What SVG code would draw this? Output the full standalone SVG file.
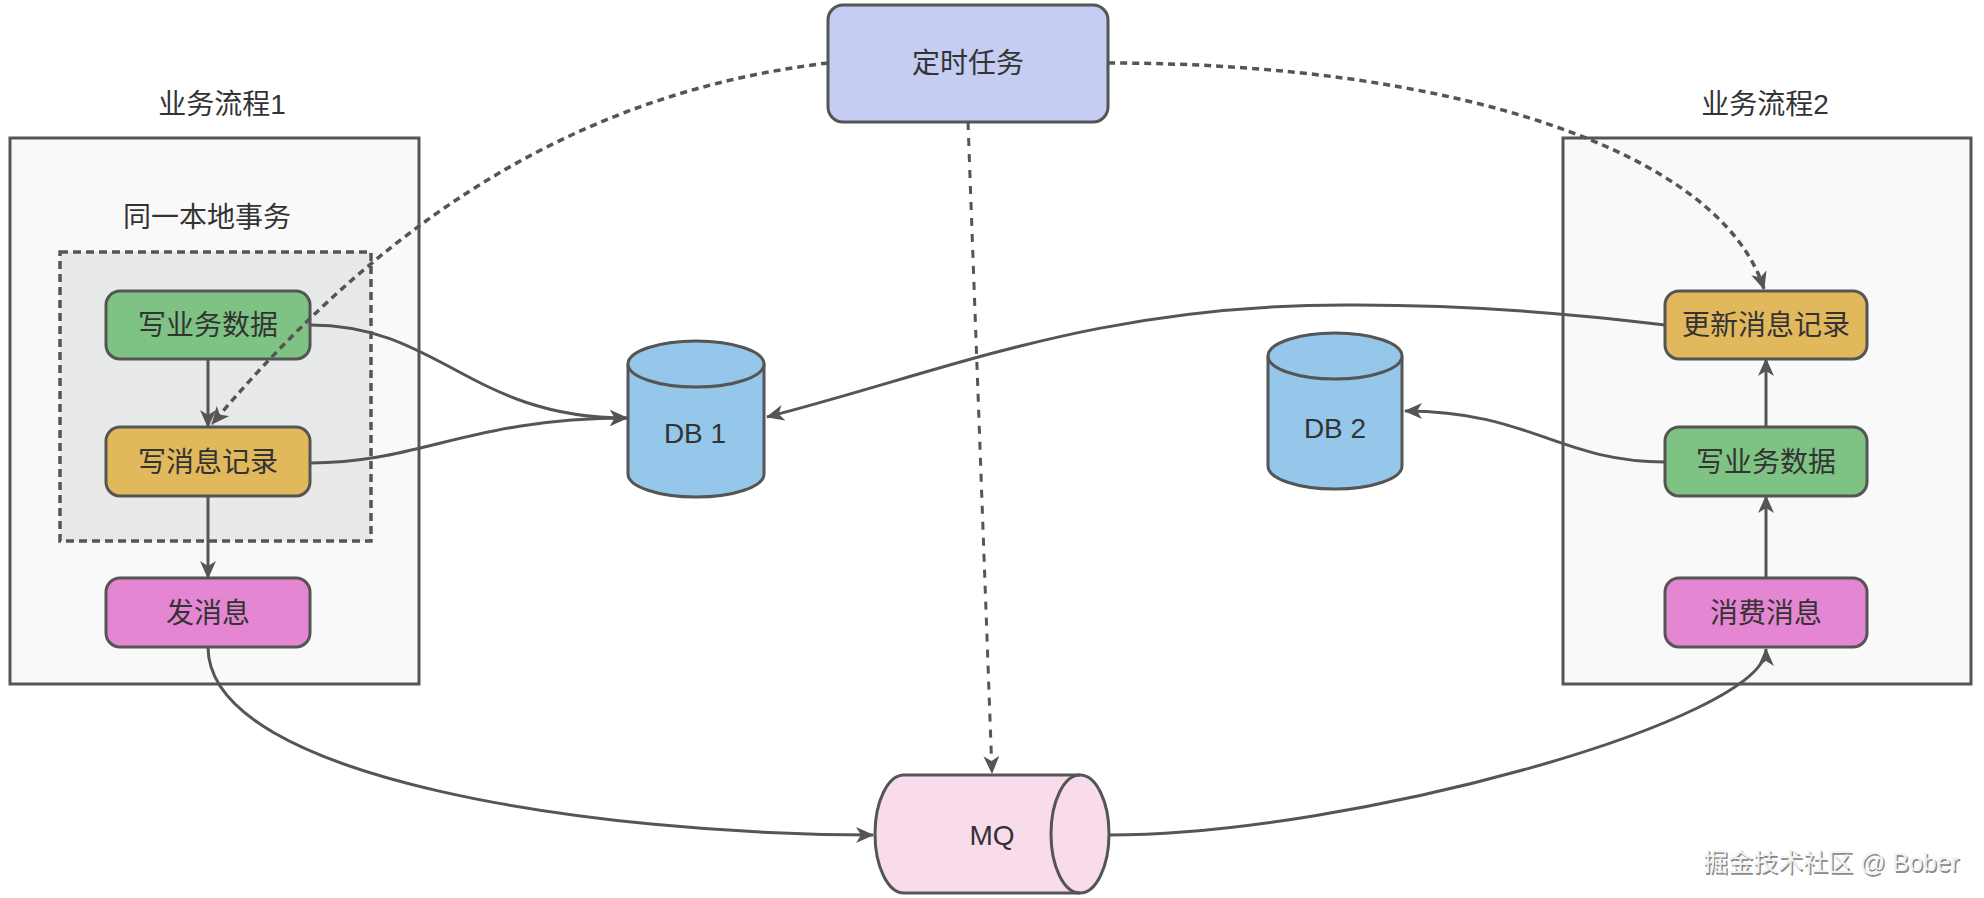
<svg xmlns="http://www.w3.org/2000/svg" width="1984" height="898" viewBox="0 0 1984 898">
<defs>
<style>
text{font-family:"Liberation Sans","Noto Sans CJK SC",sans-serif;fill:#333333;text-anchor:middle;dominant-baseline:central}
.lbl{font-size:28px}
.nt{font-size:28px}
.box{stroke:#555555;stroke-width:3}
.node{stroke:#555555;stroke-width:3}
.green{fill:#7ec384}
.yellow{fill:#e2b85c}
.pink{fill:#e586d3}
.db{fill:#95c7eb;stroke:#555555;stroke-width:3}
.conn{fill:none;stroke:#555555;stroke-width:3}
.dash{stroke-dasharray:7 5;stroke-width:3.5}
.vdash{stroke-dasharray:8 8}
.wm{font-size:25px;text-anchor:start}
</style>
<marker id="arr" markerUnits="userSpaceOnUse" markerWidth="18" markerHeight="16" viewBox="0 0 18 16" refX="17" refY="8" orient="auto">
<path d="M0,0 L18,8 L0,16 L5,8 Z" fill="#555555" stroke="none"/>
</marker>
</defs>
<rect width="1984" height="898" fill="#ffffff"/>

<g id="flow1">
<rect class="box" x="10" y="138" width="409" height="546" fill="#f9f9f9"/>
<text class="lbl" x="222" y="104">业务流程1</text>
</g>
<g id="local-tx">
<rect x="60" y="252" width="311" height="289" fill="#e8eaea" stroke="#555555" stroke-width="3.5" stroke-dasharray="8 5"/>
<text class="lbl" x="207" y="217">同一本地事务</text>
</g>
<g id="flow2">
<rect class="box" x="1563" y="138" width="408" height="546" fill="#f9f9f9"/>
<text class="lbl" x="1765" y="104">业务流程2</text>
</g>

<g id="timer">
<rect class="node" x="828" y="5" width="280" height="117" rx="15" fill="#c5cdf3"/>
<text class="nt" x="968" y="63">定时任务</text>
</g>
<g id="write-biz-1">
<rect class="node green" x="106" y="291" width="204" height="68" rx="14"/>
<text class="nt" x="208" y="325">写业务数据</text>
</g>
<g id="write-msg-1">
<rect class="node yellow" x="106" y="427" width="204" height="69" rx="14"/>
<text class="nt" x="208" y="462">写消息记录</text>
</g>
<g id="send-msg">
<rect class="node pink" x="106" y="578" width="204" height="69" rx="14"/>
<text class="nt" x="208" y="613">发消息</text>
</g>
<g id="update-msg">
<rect class="node yellow" x="1665" y="291" width="202" height="68" rx="14"/>
<text class="nt" x="1766" y="325">更新消息记录</text>
</g>
<g id="write-biz-2">
<rect class="node green" x="1665" y="427" width="202" height="69" rx="14"/>
<text class="nt" x="1766" y="462">写业务数据</text>
</g>
<g id="consume-msg">
<rect class="node pink" x="1665" y="578" width="202" height="69" rx="14"/>
<text class="nt" x="1766" y="613">消费消息</text>
</g>
<g id="db1">
<path class="db" d="M628,364 A68,23 0 0 1 764,364 V474 A68,23 0 0 1 628,474 Z"/>
<path class="db" d="M628,364 A68,23 0 0 0 764,364" fill="none"/>
<text class="nt" x="695" y="433">DB 1</text>
</g>
<g id="db2">
<path class="db" d="M1268,356 A67,23 0 0 1 1402,356 V466 A67,23 0 0 1 1268,466 Z"/>
<path class="db" d="M1268,356 A67,23 0 0 0 1402,356" fill="none"/>
<text class="nt" x="1335" y="428">DB 2</text>
</g>
<g id="mq">
<path d="M904,775 H1080 A29,59 0 0 1 1080,893 H904 A29,59 0 0 1 904,775 Z" fill="#f9dcec" stroke="#555555" stroke-width="3"/>
<path d="M1080,775 A29,59 0 0 0 1080,893" fill="none" stroke="#555555" stroke-width="3"/>
<text class="nt" x="992" y="835">MQ</text>
</g>

<g id="connectors">
<path class="conn" d="M208,359 V427" marker-end="url(#arr)"/>
<path class="conn" d="M208,496 V578" marker-end="url(#arr)"/>
<path class="conn" d="M1766,578 V496" marker-end="url(#arr)"/>
<path class="conn" d="M1766,427 V359" marker-end="url(#arr)"/>
<path class="conn" d="M310,325 C440,325 470,418 627,418" marker-end="url(#arr)"/>
<path class="conn" d="M310,463 C420,463 470,418 627,418" marker-end="url(#arr)"/>
<path class="conn" d="M1665,325 C1560,312 1460,305 1356,305 C1100,303 950,370 767,417" marker-end="url(#arr)"/>
<path class="conn" d="M1665,462 C1560,462 1530,411 1405,411" marker-end="url(#arr)"/>
<path class="conn" d="M208,647 C208,780 600,835 873,835" marker-end="url(#arr)"/>
<path class="conn" d="M1109,835 C1350,835 1766,720 1766,649" marker-end="url(#arr)"/>
<path class="conn dash" d="M828,63 C600,90 400,200 212,424" marker-end="url(#arr)"/>
<path class="conn dash" d="M1108,63 C1450,63 1720,150 1764,289" marker-end="url(#arr)"/>
<path class="conn vdash" d="M968,122 L992,773" marker-end="url(#arr)"/>
</g>

<g id="watermark">
<text class="wm" x="1704.5" y="863.5" style="fill:#8a8a8a">掘金技术社区 @ Bober</text>
<text class="wm" x="1703" y="862" style="fill:#f2f2f2">掘金技术社区 @ Bober</text>
</g>
</svg>
